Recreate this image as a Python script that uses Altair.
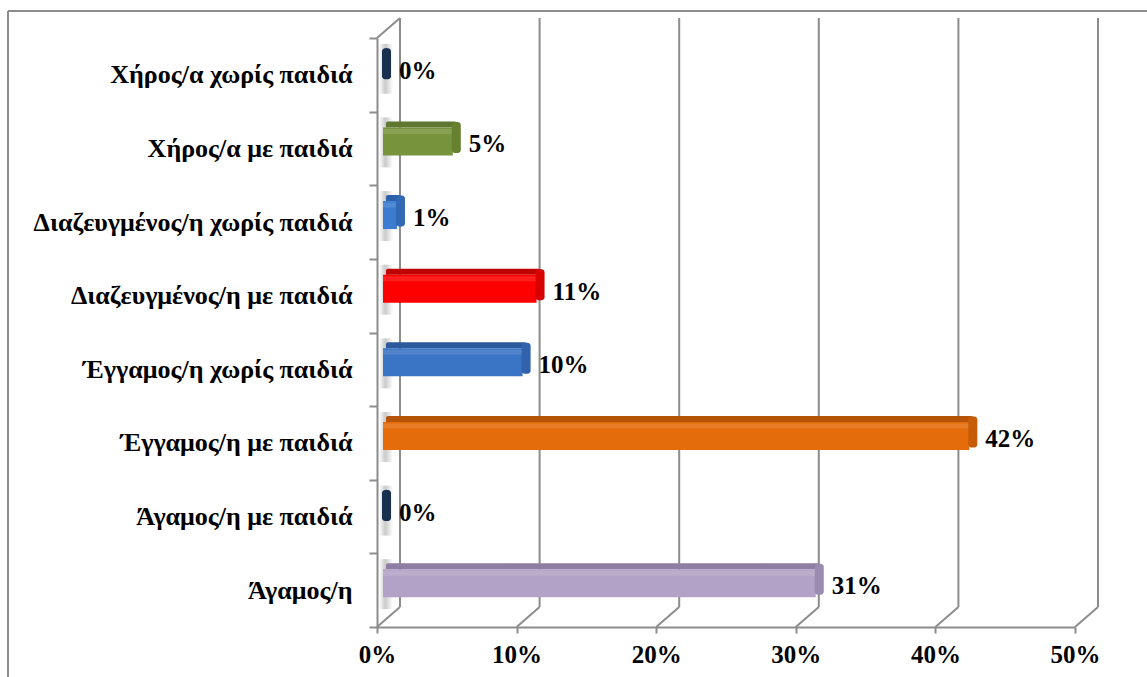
import altair as alt
import pandas as pd

# Marital / family status shares (fractions of respondents)
categories = [
    "Χήρος/α χωρίς παιδιά",
    "Χήρος/α με παιδιά",
    "Διαζευγμένος/η χωρίς παιδιά",
    "Διαζευγμένος/η με παιδιά",
    "Έγγαμος/η χωρίς παιδιά",
    "Έγγαμος/η με παιδιά",
    "Άγαμος/η με παιδιά",
    "Άγαμος/η",
]
values = [0.00, 0.05, 0.01, 0.11, 0.10, 0.42, 0.00, 0.31]

# Front, top and end-cap shades of each bar
face_colors = ["#1f3b63", "#77933c", "#3b7bd0", "#ff0000", "#3a74c4", "#e46c0a", "#1f3b63", "#b3a2c7"]
top_colors = ["#142a48", "#5e7630", "#2c60a8", "#c00000", "#2b5a9c", "#b55407", "#142a48", "#8f7ea3"]
side_colors = ["#18304f", "#66812f", "#3169b4", "#d80000", "#3063ab", "#c65c08", "#18304f", "#9c8bb1"]

gridlines = [0.0, 0.1, 0.2, 0.3, 0.4, 0.5]

df = pd.DataFrame({"cat": categories, "value": values, "zero": 0.0})
grid_df = pd.DataFrame({"tick": gridlines})

W, H = 698, 589
DEPTH_X, DEPTH_Y = 23, 20
GRAY = "#8c8c8c"
SERIF = "Liberation Serif"

x_scale = alt.Scale(domain=[0, 0.5], nice=False, zero=True)
y_scale = alt.Scale(domain=categories, paddingInner=0, paddingOuter=0)

x_axis = alt.Axis(
    title=None, format=".0%", values=gridlines, grid=False, labelFlush=False,
    domainColor=GRAY, domainWidth=2, tickColor=GRAY, tickWidth=2, tickSize=6,
    labelFont=SERIF, labelFontWeight="bold", labelFontSize=25, labelColor="black",
    labelPadding=9,
)
y_axis = alt.Axis(
    title=None, grid=False, tickBand="extent", tickExtra=True,
    domainColor=GRAY, domainWidth=2, tickColor=GRAY, tickWidth=2, tickSize=8,
    labelFont=SERIF, labelFontWeight="bold", labelFontSize=26, labelColor="black",
    labelPadding=17, labelLimit=0,
)


def ycat():
    return alt.Y("cat:N", sort=categories, scale=y_scale, axis=y_axis)


def color_of(rng):
    return alt.Color("cat:N", scale=alt.Scale(domain=categories, range=rng), legend=None)


base = alt.Chart(df)

# Outer frame (left and top edges)
frame_left = alt.Chart(grid_df.head(1)).mark_rule(color=GRAY, strokeWidth=2).encode(
    x=alt.value(-369), y=alt.value(-27), y2=alt.value(H + 60)
)
frame_top = alt.Chart(grid_df.head(1)).mark_rule(color=GRAY, strokeWidth=2).encode(
    x=alt.value(-369), x2=alt.value(W + 80), y=alt.value(-27)
)

# Back-wall gridlines and their floor diagonals
back_lines = alt.Chart(grid_df).mark_rule(color=GRAY, strokeWidth=2, xOffset=DEPTH_X).encode(
    x=alt.X("tick:Q", scale=x_scale, axis=x_axis),
    y=alt.value(-DEPTH_Y), y2=alt.value(H - DEPTH_Y),
)
floor_lines = alt.Chart(grid_df).mark_rule(
    color=GRAY, strokeWidth=2, xOffset=DEPTH_X, x2Offset=0
).encode(
    x=alt.X("tick:Q", scale=x_scale, axis=x_axis),
    x2="tick:Q",
    y=alt.value(H - DEPTH_Y), y2=alt.value(H),
)
wall_top = alt.Chart(grid_df.head(1)).mark_rule(color=GRAY, strokeWidth=2).encode(
    x=alt.value(0), x2=alt.value(DEPTH_X), y=alt.value(0), y2=alt.value(-DEPTH_Y)
)

# Soft shadows cast on the side wall
shadow = base.mark_bar(
    height=50, yOffset=-6, xOffset=2, x2Offset=16, opacity=0.45,
    fill=alt.Gradient(
        gradient="linear", x1=0, y1=0, x2=1, y2=0,
        stops=[alt.GradientStop(color="#ffffff", offset=0),
               alt.GradientStop(color="#8a8a8a", offset=0.45),
               alt.GradientStop(color="#ffffff", offset=1)],
    ),
).encode(x=alt.X("zero:Q", scale=x_scale, axis=x_axis), x2="zero:Q", y=ycat())

# Bars: top face, front face, highlight, end cap
top_face = base.mark_bar(
    height=6, yOffset=-24, xOffset=9, x2Offset=10, cornerRadiusTopLeft=2, cornerRadiusTopRight=2
).encode(x=alt.X("zero:Q", scale=x_scale, axis=x_axis), x2="value:Q", y=ycat(),
         color=color_of(top_colors))

front_face = base.mark_bar(height=28, yOffset=-7, xOffset=6, x2Offset=6).encode(
    x=alt.X("zero:Q", scale=x_scale, axis=x_axis), x2="value:Q", y=ycat(),
    color=color_of(face_colors)
)

highlight = base.mark_bar(height=5, yOffset=-17, xOffset=6, x2Offset=6, color="white", opacity=0.12).encode(
    x=alt.X("zero:Q", scale=x_scale, axis=x_axis), x2="value:Q", y=ycat()
)

end_cap = base.mark_bar(height=31, yOffset=-11, xOffset=5, x2Offset=14, cornerRadius=3).encode(
    x=alt.X("value:Q", scale=x_scale, axis=x_axis), x2="value:Q", y=ycat(),
    color=color_of(side_colors)
)

labels = base.mark_text(
    align="left", baseline="middle", dx=22, dy=-4,
    font=SERIF, fontWeight="bold", fontSize=25, color="black",
).encode(x=alt.X("value:Q", scale=x_scale, axis=x_axis), y=ycat(),
         text=alt.Text("value:Q", format=".0%"))

chart = alt.layer(
    frame_left, frame_top, back_lines, floor_lines, wall_top, shadow,
    top_face, front_face, highlight, end_cap, labels,
).resolve_scale(color="independent").properties(
    width=W, height=H,
    autosize=alt.AutoSizeParams(type="none"),
    padding={"left": 377, "top": 38, "right": 72, "bottom": 50},
    background="white",
).configure_view(stroke=None)

chart.save("out.html", embed_options={"renderer": "svg", "actions": False})
